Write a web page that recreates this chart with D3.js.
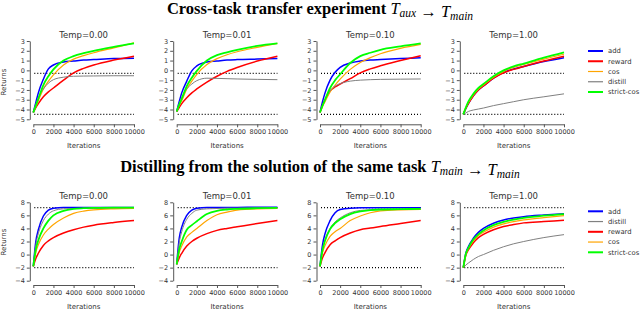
<!DOCTYPE html>
<html>
<head>
<meta charset="utf-8">
<script src="https://cdn.jsdelivr.net/npm/d3@7"></script>
<style>
  body { margin: 0; background: #fff; }
  text { font-family: "DejaVu Sans", sans-serif; fill: #333; }
  .main-title { font-family: "Liberation Serif", serif; font-weight: bold; fill: #000; }
</style>
</head>
<body>
<div id="chart"></div>
<script>
// sample points along the iteration axis
const iters = [0, 250, 500, 1000, 1500, 2000, 3000, 4000, 5000, 6000, 8000, 10000];
const temps = ["0.00", "0.01", "0.10", "1.00"];
const xTicks = [0, 2000, 4000, 6000, 8000, 10000];

// cross-task transfer (top row), one row per temperature
const crossAdd = [
    [-4.3, -3.3, -2.3, -0.9, 0.15, 0.55, 0.85, 0.95, 1.05, 1.1, 1.2, 1.25],
    [-4.2, -3.2, -2.3, -1.1, -0.05, 0.45, 0.85, 0.95, 1.05, 1.1, 1.15, 1.2],
    [-4.3, -3.2, -2.3, -1.0, -0.2, 0.3, 0.75, 0.95, 1.05, 1.1, 1.2, 1.3],
    [-4.5, -3.9, -3.4, -2.6, -2.0, -1.6, -0.8, -0.2, 0.15, 0.4, 0.9, 1.3]
];
const crossReward = [
    [-4.3, -3.8, -3.4, -2.7, -2.2, -1.8, -1.0, -0.25, 0.2, 0.55, 1.05, 1.45],
    [-4.2, -3.8, -3.4, -2.8, -2.3, -1.9, -1.2, -0.6, -0.1, 0.3, 0.95, 1.45],
    [-4.3, -3.6, -3.0, -2.1, -1.7, -1.4, -0.85, -0.25, 0.15, 0.47, 1.0, 1.5],
    [-4.5, -3.9, -3.4, -2.6, -2.0, -1.6, -0.8, -0.25, 0.1, 0.4, 0.95, 1.45]
];
const crossCos = [
    [-4.3, -3.7, -3.1, -1.9, -1.1, -0.45, 0.55, 1.15, 1.5, 1.8, 2.3, 2.8],
    [-4.2, -3.6, -3.1, -1.9, -1.1, -0.4, 0.6, 1.2, 1.6, 1.9, 2.35, 2.75],
    [-4.3, -3.7, -3.2, -2.2, -1.5, -0.9, 0.1, 0.8, 1.3, 1.7, 2.25, 2.65],
    [-4.5, -3.8, -3.3, -2.5, -1.9, -1.5, -0.7, -0.1, 0.3, 0.6, 1.15, 1.65]
];
const crossDistill = [
    [-4.3, -3.5, -2.8, -1.9, -1.3, -0.95, -0.7, -0.6, -0.58, -0.57, -0.55, -0.55],
    [-4.2, -3.4, -2.8, -1.9, -1.4, -1.05, -0.8, -0.82, -0.85, -0.88, -0.92, -0.95],
    [-4.3, -3.6, -3.0, -2.1, -1.6, -1.35, -1.1, -1.0, -0.95, -0.92, -0.9, -0.88],
    [-4.5, -4.35, -4.2, -4.05, -3.95, -3.85, -3.6, -3.4, -3.2, -3.0, -2.7, -2.4]
];
const crossStrict = [
    [-4.3, -3.6, -2.9, -1.5, -0.6, 0.1, 1.0, 1.45, 1.75, 2.0, 2.4, 2.75],
    [-4.2, -3.5, -2.9, -1.6, -0.75, -0.05, 1.0, 1.55, 1.85, 2.1, 2.5, 2.75],
    [-4.3, -3.6, -3.0, -1.8, -1.0, -0.4, 0.75, 1.45, 1.8, 2.1, 2.45, 2.75],
    [-4.5, -3.8, -3.2, -2.4, -1.8, -1.4, -0.6, 0.0, 0.4, 0.7, 1.3, 1.85]
];

// distilling from the same task (bottom row)
const sameAdd = [
    [-1.8, 2.0, 3.8, 5.9, 6.8, 7.1, 7.2, 7.2, 7.2, 7.2, 7.2, 7.2],
    [-1.5, 2.5, 4.2, 6.0, 6.8, 7.1, 7.2, 7.2, 7.2, 7.2, 7.25, 7.25],
    [-1.8, 1.5, 3.2, 5.2, 6.4, 6.9, 7.1, 7.15, 7.15, 7.15, 7.15, 7.15],
    [-2.0, 0.2, 1.2, 2.5, 3.4, 4.0, 4.8, 5.3, 5.6, 5.8, 6.05, 6.25]
];
const sameDistill = [
    [-1.8, 1.5, 3.2, 5.2, 6.2, 6.7, 7.0, 7.05, 7.05, 7.05, 7.05, 7.05],
    [-1.5, 1.8, 3.5, 5.4, 6.3, 6.8, 7.0, 7.05, 7.1, 7.1, 7.1, 7.1],
    [-1.8, 0.8, 2.3, 4.0, 5.0, 5.6, 6.4, 6.75, 6.85, 6.9, 6.9, 6.9],
    [-2.0, -1.6, -1.3, -0.75, -0.3, 0.0, 0.65, 1.2, 1.65, 2.0, 2.6, 3.05]
];
const sameReward = [
    [-1.8, -0.6, 0.2, 1.4, 2.1, 2.6, 3.3, 3.8, 4.2, 4.5, 4.9, 5.2],
    [-1.5, -0.5, 0.2, 1.3, 2.0, 2.5, 3.2, 3.7, 4.0, 4.25, 4.75, 5.2],
    [-1.8, -0.5, 0.3, 1.5, 2.1, 2.6, 3.3, 3.8, 4.05, 4.3, 4.75, 5.2],
    [-2.0, -0.1, 0.7, 1.8, 2.6, 3.1, 3.8, 4.3, 4.6, 4.85, 5.05, 5.25]
];
const sameCos = [
    [-1.8, 0.3, 1.5, 3.0, 3.9, 4.6, 5.6, 6.3, 6.65, 6.85, 7.0, 7.05],
    [-1.5, 0.3, 1.3, 2.7, 3.4, 4.0, 5.2, 6.1, 6.5, 6.8, 7.0, 7.05],
    [-1.8, 0.3, 1.4, 2.8, 3.5, 4.0, 5.2, 5.9, 6.4, 6.7, 6.85, 6.9],
    [-2.0, 0.0, 0.9, 2.1, 2.9, 3.4, 4.2, 4.7, 5.05, 5.3, 5.65, 5.95]
];
const sameStrict = [
    [-1.8, 0.8, 2.2, 4.0, 5.2, 6.0, 6.7, 7.0, 7.1, 7.15, 7.2, 7.2],
    [-1.5, 0.8, 2.0, 3.8, 4.5, 5.1, 6.2, 6.7, 6.9, 7.0, 7.1, 7.15],
    [-1.8, 0.7, 2.1, 3.9, 4.8, 5.4, 6.2, 6.6, 6.8, 6.9, 6.95, 7.0],
    [-2.0, 0.1, 1.0, 2.3, 3.1, 3.7, 4.5, 5.0, 5.35, 5.6, 5.95, 6.2]
];

// dotted reference levels
const crossRefs = [-0.3, -4.5];
const sameRefs = [7.2, -2.0];

const width = 640, height = 309;
const svg = d3.select("#chart").append("svg")
    .attr("width", width)
    .attr("height", height);

const colors = { "add": "#0000ff", "reward": "#ff0000", "cos": "#ffa500", "distill": "#808080", "strict-cos": "#00ff00" };
const widths = { "add": 1.5, "reward": 1.5, "cos": 1.2, "distill": 1.0, "strict-cos": 1.8 };

const panelLefts = [33.3, 176.7, 320, 463.3];
const panelW = 100.7;

function draw_row(cfg) {
    panelLefts.forEach(function (left, p) {
        var x = d3.scaleLinear().domain([0, 10000]).range([left, left + panelW]);
        var y = d3.scaleLinear().domain(cfg.yDomain).range([cfg.yBottom, cfg.yTop]);
        var g = svg.append("g");

        // y axis (offset spine)
        g.append("g")
            .attr("transform", "translate(" + (left - 3.5) + ",0)")
            .call(d3.axisLeft(y).tickValues(cfg.yTicks).tickSize(3).tickSizeOuter(0).tickPadding(2)
                .tickFormat(function (d) { return d < 0 ? "\u2212" + Math.abs(d) : d; }))
            .call(style_axis);

        // x axis
        g.append("g")
            .attr("transform", "translate(0," + cfg.xAxisY + ")")
            .call(d3.axisBottom(x).tickValues(xTicks).tickSize(3).tickSizeOuter(0).tickPadding(2.5)
                .tickFormat(d3.format("d")))
            .call(style_axis);

        g.append("text")
            .attr("x", left + panelW / 2)
            .attr("y", cfg.xAxisY + 23.5)
            .attr("text-anchor", "middle")
            .style("font-size", "7px")
            .text("Iterations");

        g.append("text")
            .attr("x", left + panelW / 2)
            .attr("y", cfg.yTop - 3.5)
            .attr("text-anchor", "middle")
            .style("font-size", "8.5px")
            .text("Temp=" + temps[p]);

        if (p === 0) {
            g.append("text")
                .attr("transform", "translate(6," + cfg.labelY + ") rotate(-90)")
                .attr("text-anchor", "middle")
                .style("font-size", "7px")
                .text("Returns");
        }

        // dotted reference lines
        g.selectAll(".ref")
            .data(cfg.refs)
            .enter()
            .append("line")
            .attr("x1", x(0) + 1)
            .attr("x2", x(10000))
            .attr("y1", function (d) { return y(d); })
            .attr("y2", function (d) { return y(d); })
            .style("stroke", "#000")
            .style("stroke-width", 1.2)
            .style("stroke-dasharray", "1,2");

        var line = d3.line()
            .x(function (d, i) { return x(iters[i]); })
            .y(function (d) { return y(d); })
            .curve(d3.curveMonotoneX);

        cfg.series.forEach(function (s) {
            g.append("path")
                .datum(s.values[p])
                .attr("d", line)
                .style("fill", "none")
                .style("stroke", colors[s.name])
                .style("stroke-width", widths[s.name]);
        });
    });

    // legend
    var legend = svg.append("g")
        .attr("class", "legend")
        .attr("transform", "translate(588," + cfg.legendY + ")");
    cfg.series.forEach(function (s, i) {
        legend.append("line")
            .attr("x1", 0).attr("x2", 15)
            .attr("y1", i * 10.25).attr("y2", i * 10.25)
            .style("stroke", colors[s.name])
            .style("stroke-width", s.name === "distill" || s.name === "cos" ? 1.2 : 2);
        legend.append("text")
            .attr("x", 20)
            .attr("y", i * 10.25)
            .attr("dy", "0.35em")
            .style("font-size", "6.8px")
            .text(s.name);
    });
}

function style_axis(sel) {
    sel.select(".domain").style("stroke", "#555").style("stroke-width", 1);
    sel.selectAll(".tick line").style("stroke", "#555");
    sel.selectAll(".tick text").style("font-size", "6.5px").style("fill", "#333")
        .style("font-family", "DejaVu Sans, sans-serif");
}

// main titles
function main_title(yPos, plain, from, to) {
    var t = svg.append("text")
        .attr("class", "main-title")
        .attr("x", 320)
        .attr("y", yPos)
        .attr("text-anchor", "middle")
        .style("font-size", "16.5px");
    t.append("tspan").text(plain);
    [from, null, to].forEach(function (sub) {
        if (sub === null) {
            t.append("tspan").style("font-weight", "normal").text(" \u2192 ");
            return;
        }
        t.append("tspan").style("font-style", "italic").style("font-weight", "normal").text("T");
        t.append("tspan").style("font-style", "italic").style("font-weight", "normal")
            .style("font-size", "11.5px").attr("dy", 3).text(sub);
        t.append("tspan").attr("dy", -3).text("");
    });
}

main_title(14, "Cross-task transfer experiment ", "aux", "main");
main_title(172, "Distilling from the solution of the same task ", "main", "main");

draw_row({
    yDomain: [-5, 3], yTicks: d3.range(-5, 4), yTop: 41, yBottom: 119.3, xAxisY: 124.3,
    labelY: 82, legendY: 51, refs: crossRefs,
    series: [
        { name: "add", values: crossAdd },
        { name: "reward", values: crossReward },
        { name: "cos", values: crossCos },
        { name: "distill", values: crossDistill },
        { name: "strict-cos", values: crossStrict }
    ]
});

draw_row({
    yDomain: [-4, 8], yTicks: [-4, -2, 0, 2, 4, 6, 8], yTop: 202.3, yBottom: 280.7, xAxisY: 285,
    labelY: 242, legendY: 211.3, refs: sameRefs,
    series: [
        { name: "add", values: sameAdd },
        { name: "distill", values: sameDistill },
        { name: "reward", values: sameReward },
        { name: "cos", values: sameCos },
        { name: "strict-cos", values: sameStrict }
    ]
});
</script>
</body>
</html>
